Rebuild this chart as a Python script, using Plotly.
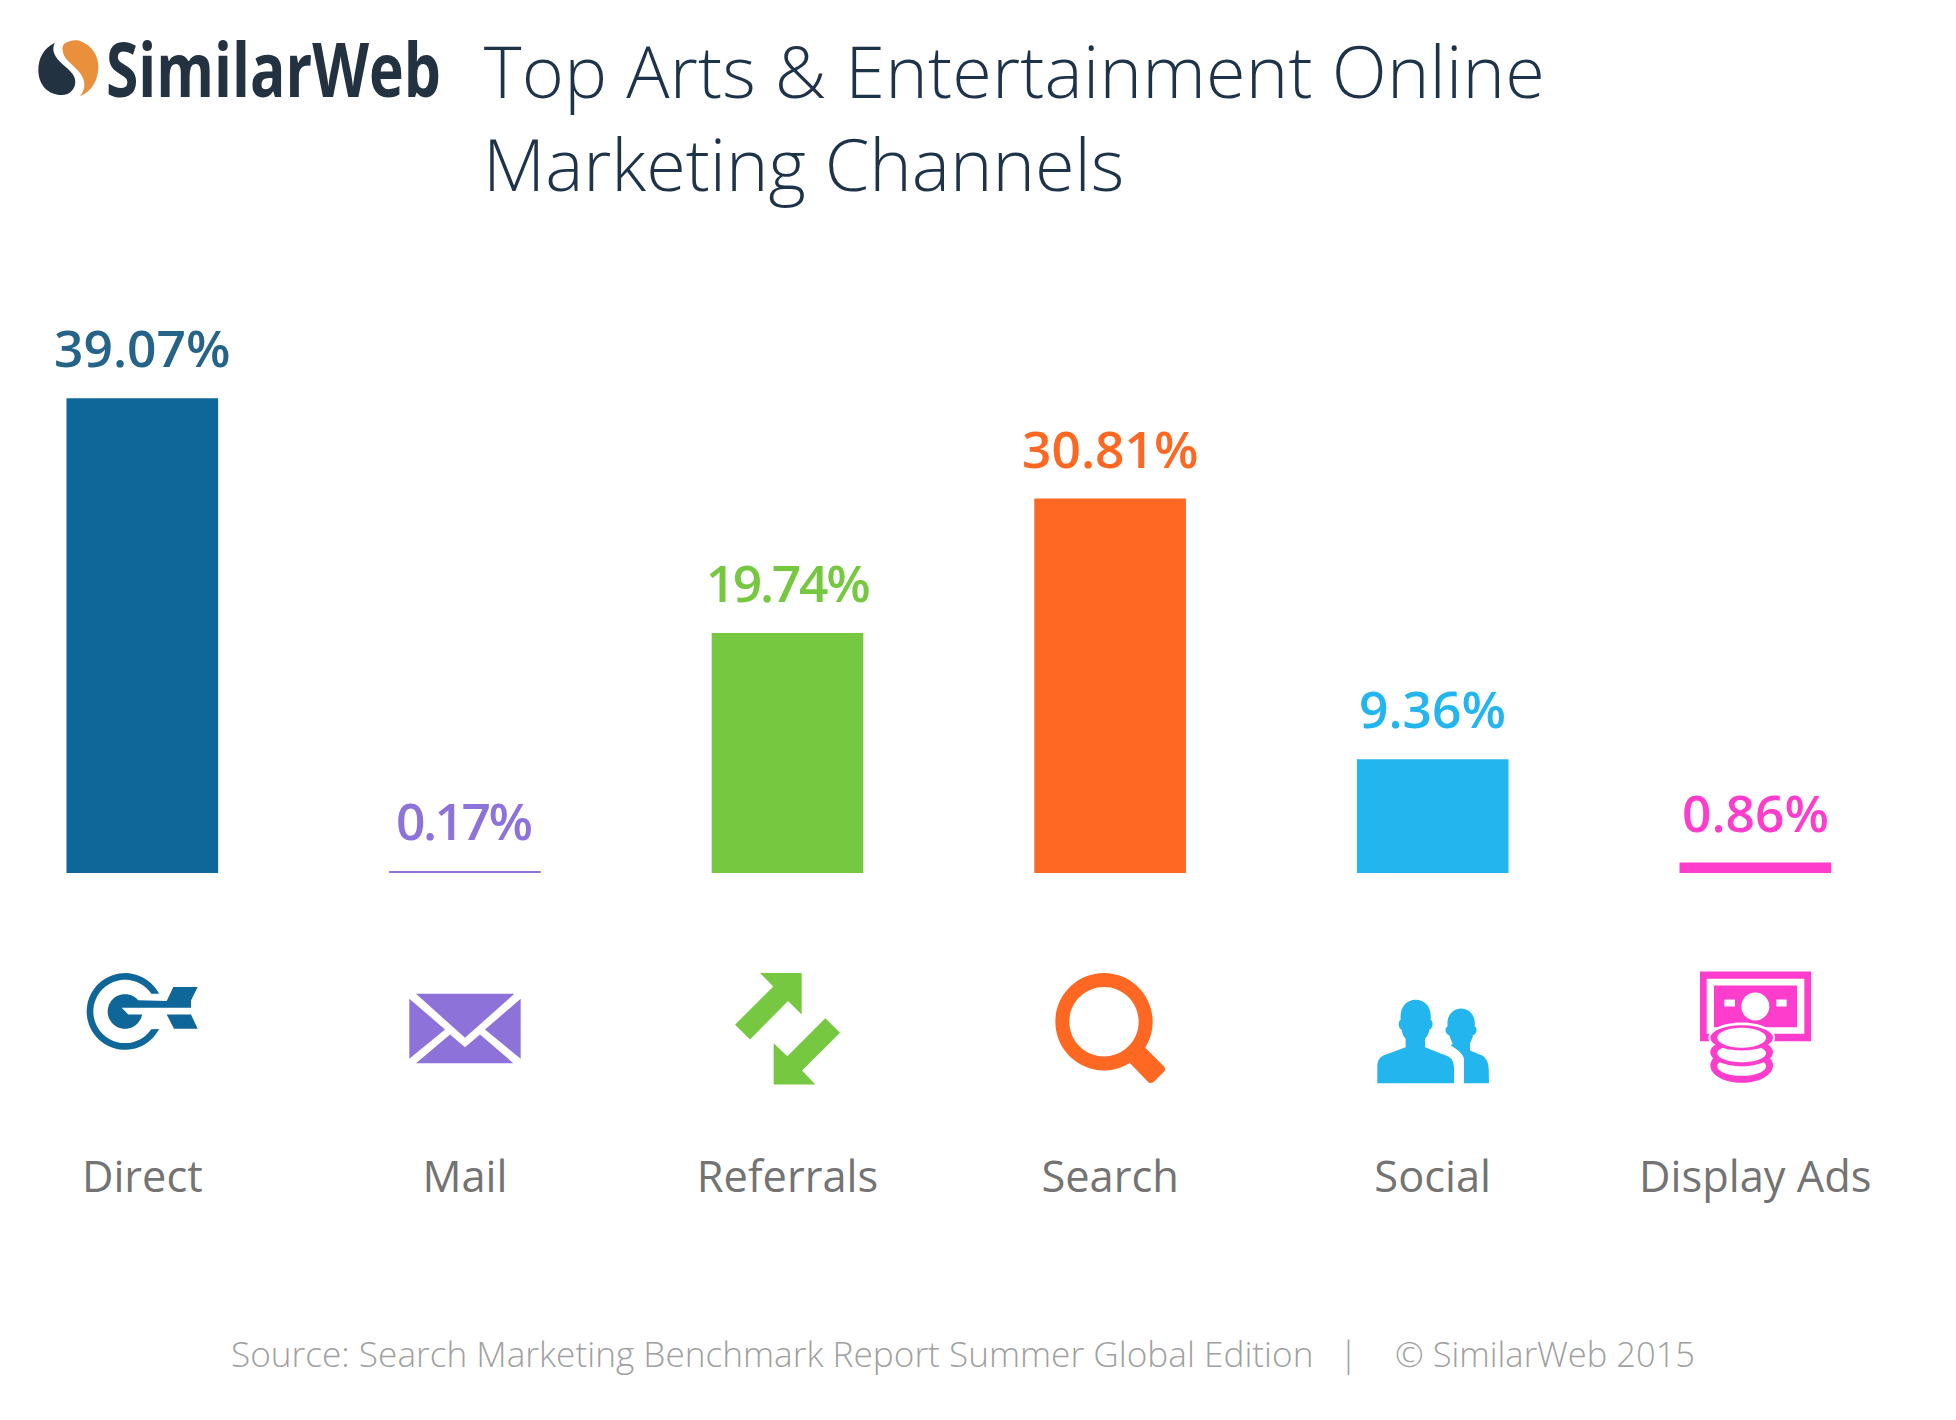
import math
import plotly.graph_objects as go

# ---- data ----
categories = ["Direct", "Mail", "Referrals", "Search", "Social", "Display Ads"]
values = [39.07, 0.17, 19.74, 30.81, 9.36, 0.86]
bar_colors = ["#0f6698", "#8d72da", "#76c840", "#ff6822", "#22b5ee", "#ff3dcc"]
label_colors = ["#266389", "#8d72da", "#76c840", "#ff6822", "#22b5ee", "#ff3dcc"]
title_lines = ["Top Arts &amp; Entertainment Online", "Marketing Channels"]
brand = "SimilarWeb"
source_main = "Source: Search Marketing Benchmark Report Summer Global Edition"
source_sep = "|"
source_copy = "© SimilarWeb 2015"

W, H = 1956, 1420
BASE = 872.6
PX_PER_UNIT = 12.147
STEP = 322.6
FIRST_CENTER = 142.3
FONT = "Open Sans"


# ---- icon helpers: coordinates are given in crop units (3x) from an origin in px ----
class Icon:
    def __init__(self, ox, oy, k=3.0):
        self.ox, self.oy, self.k = ox, oy, k

    def pt(self, x, y):
        px = self.ox + x / self.k
        py = self.oy + y / self.k
        return f"{px / W:.5f},{(BASE - py) / BASE:.5f}"

    def poly(self, pts):
        return "M" + " L".join(self.pt(*p) for p in pts) + " Z"

    def curve(self, start, segs):
        d = "M" + self.pt(*start)
        for s in segs:
            if len(s) == 2:
                d += " L" + self.pt(*s)
            else:
                d += " C" + self.pt(s[0], s[1]) + " " + self.pt(s[2], s[3]) + " " + self.pt(s[4], s[5])
        return d + " Z"

    def ellipse(self, cx, cy, rx, ry=None):
        ry = rx if ry is None else ry
        c = 0.5523
        return self.curve((cx + rx, cy), [
            (cx + rx, cy + c * ry, cx + c * rx, cy + ry, cx, cy + ry),
            (cx - c * rx, cy + ry, cx - rx, cy + c * ry, cx - rx, cy),
            (cx - rx, cy - c * ry, cx - c * rx, cy - ry, cx, cy - ry),
            (cx + c * rx, cy - ry, cx + rx, cy - c * ry, cx + rx, cy),
        ])

    def rect(self, x0, y0, x1, y1):
        return self.poly([(x0, y0), (x1, y0), (x1, y1), (x0, y1)])


def arc_pts(cx, cy, r, a0, a1, n=48):
    out = []
    for i in range(n + 1):
        a = math.radians(a0 + (a1 - a0) * i / n)
        out.append((cx + r * math.cos(a), cy + r * math.sin(a)))
    return out


shapes = []


def add(path, color, evenodd=False):
    s = dict(type="path", path=path, xref="paper", yref="paper", fillcolor=color,
             line=dict(width=0), layer="above")
    if evenodd:
        s["fillrule"] = "evenodd"
    shapes.append(s)


# logo
logo = Icon(20, 20)
add(logo.curve((105, 68), [
    (70, 85, 55, 115, 55, 150),
    (55, 195, 85, 225, 125, 225),
    (150, 225, 166, 205, 166, 185),
    (166, 160, 140, 145, 120, 125),
    (100, 105, 95, 85, 105, 68),
]), "#233241")
add(logo.curve((132, 72), [
    (150, 60, 170, 58, 185, 65),
    (215, 78, 235, 105, 235, 140),
    (235, 180, 215, 215, 180, 228),
    (195, 210, 197, 190, 187, 170),
    (175, 145, 145, 130, 133, 108),
    (127, 95, 125, 82, 132, 72),
]), "#ea8f3c")

# direct
ic = Icon(50, 950)
c = "#0f6698"
outer = arc_pts(225, 183, 115, 27.4, 332.6, 60)
inner = arc_pts(225, 183, 95, 326.1, 33.9, 60)
add(ic.poly(outer + inner), c)
disc = arc_pts(225, 183, 52, 10, 320, 60)
add(ic.poly(disc + [(350, 152), (370, 110), (443, 110), (423, 150), (423, 172), (215, 172), (235, 192)]), c)
add(ic.poly([(350, 192), (423, 192), (443, 235), (372, 235)]), c)

# mail
c = "#8d72da"
add(ic.poly([(1098, 130), (1393, 130), (1245, 262)]), c)
add(ic.poly([(1078, 145), (1185, 237), (1078, 325)]), c)
add(ic.poly([(1412, 145), (1305, 237), (1412, 325)]), c)
add(ic.poly([(1098, 338), (1200, 252), (1245, 290), (1290, 252), (1390, 338)]), c)

# referrals
ic = Icon(700, 950)
c = "#76c840"
add(ic.poly([(180, 68), (305, 68), (305, 192), (264, 152), (150, 267), (105, 223), (220, 108)]), c)
add(ic.poly([(376, 203), (420, 247), (306, 360), (346, 402), (221, 402), (221, 278), (262, 317)]), c)

# search
c = "#ff6822"
add(ic.ellipse(1212, 214, 146) + " " + ic.ellipse(1212, 214, 104), c, evenodd=True)
add(ic.poly([(1332, 288), (1392, 348), (1396, 356), (1392, 364), (1360, 395), (1352, 398), (1345, 395), (1288, 336)]), c)

# social
ic = Icon(1340, 950)
c = "#22b5ee"
add(ic.curve((112, 398), [
    (112, 350), (112, 330, 118, 322, 130, 315), (197, 290), (197, 265),
    (190, 258, 186, 248, 185, 238), (176, 235, 172, 215, 182, 208),
    (178, 170, 200, 148, 227, 148), (255, 148, 276, 170, 272, 208),
    (282, 215, 278, 235, 268, 238), (266, 250, 262, 258, 255, 265),
    (255, 290), (325, 318), (337, 325, 341, 335, 342, 350), (342, 398),
]), c)
add(ic.curve((372, 398), [
    (372, 325), (368, 308, 350, 295, 332, 285), (338, 280),
    (334, 270, 330, 262, 328, 254), (316, 252, 312, 232, 323, 227),
    (318, 195, 340, 174, 363, 174), (388, 174, 408, 195, 404, 227),
    (414, 232, 410, 252, 399, 254), (397, 265, 393, 272, 390, 278),
    (390, 300), (428, 316), (440, 325, 446, 338, 446, 355), (447, 398),
]), c)

# display ads
c = "#ff3dcc"
add(ic.rect(1080, 63, 1413, 272) + " " + ic.rect(1100, 85, 1393, 250), c, evenodd=True)
add(ic.rect(1122, 105, 1371, 230) + " " + ic.ellipse(1246, 168, 42)
    + " " + ic.rect(1153, 147, 1185, 168) + " " + ic.rect(1309, 147, 1340, 168), c, evenodd=True)
add(ic.ellipse(1205, 262, 100, 46), "#ffffff")
add(ic.ellipse(1205, 345, 94, 52), c)
add(ic.ellipse(1205, 347, 73, 29), "#ffffff")
add(ic.ellipse(1205, 305, 94, 42), c)
add(ic.ellipse(1205, 308, 73, 27), "#ffffff")
add(ic.ellipse(1205, 262, 94, 38), c)
add(ic.ellipse(1205, 262, 73, 30), "#ffffff")

# ---- text ----
annotations = []
for cat, val, col in zip(categories, values, label_colors):
    annotations.append(dict(
        x=cat, y=val, xref="x", yref="y", text=f"{val:.2f}%", showarrow=False,
        xanchor="center", yanchor="bottom", yshift=14,
        font=dict(family=FONT, size=51.5, color=col, weight=600),
    ))


def page_text(text, x, y, size, color, anchor="left", weight=400, family=FONT):
    annotations.append(dict(
        text=text, x=x / W, y=(BASE - y) / BASE, xref="paper", yref="paper", showarrow=False,
        xanchor=anchor, yanchor="middle",
        font=dict(family=family, size=size, color=color, weight=weight),
    ))


page_text(title_lines[0], 1015, 70, 72, "#1d3349", anchor="center", weight=300)
page_text(title_lines[1], 481, 163, 72, "#1d3349", weight=300)
page_text(brand, 273, 67, 76, "#233241", anchor="center", weight=700)
page_text(source_main, 229, 1352.5, 35.2, "#a0a0a0", weight=300)
page_text(source_sep, 1348.5, 1352.5, 35, "#a0a0a0", anchor="center", weight=300)
page_text(source_copy, 1393, 1352.5, 34.5, "#a0a0a0", weight=300)

fig = go.Figure(go.Bar(x=categories, y=values, marker=dict(color=bar_colors, line=dict(width=0)),
                       hoverinfo="skip"))
fig.update_layout(
    width=W, height=H, autosize=False,
    margin=dict(l=0, r=0, t=0, b=H - BASE, pad=0),
    paper_bgcolor="#ffffff", plot_bgcolor="#ffffff",
    bargap=0.53, showlegend=False,
    shapes=shapes, annotations=annotations,
    xaxis=dict(
        type="category", categoryorder="array", categoryarray=categories,
        range=[-FIRST_CENTER / STEP, (W - FIRST_CENTER) / STEP],
        showgrid=False, zeroline=False, showline=False, ticks="",
        tickfont=dict(family=FONT, size=43.4, color="#737373"),
        ticklabelstandoff=275, automargin=False,
    ),
    yaxis=dict(range=[0, BASE / PX_PER_UNIT], visible=False, fixedrange=True),
)

# Fits a few text runs to the widths seen in the reference; the texts stay real text.
post = """
document.body.style.margin='0';
document.documentElement.style.overflow='hidden';
var fits={'SimilarWeb':[335,'spacingAndGlyphs'],'19.74%':[165,'spacing'],'0.17%':[137,'spacing']};
document.querySelectorAll('.annotation-text').forEach(function(t){
  var s=t.textContent;
  if(fits[s]){t.setAttribute('textLength',fits[s][0]);t.setAttribute('lengthAdjust',fits[s][1]);}
  if(s.indexOf('Top Arts')===0){t.setAttribute('textLength','1061');t.setAttribute('lengthAdjust','spacing');}
});
"""
fig.write_html("out.html", post_script=post, config=dict(displayModeBar=False))
